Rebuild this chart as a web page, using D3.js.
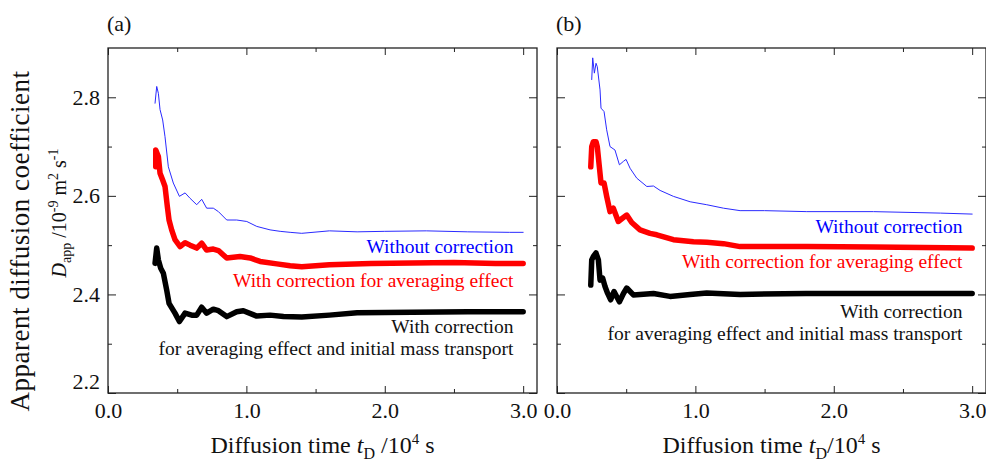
<!DOCTYPE html>
<html>
<head>
<meta charset="utf-8">
<script src="https://cdn.jsdelivr.net/npm/d3@7"></script>
<style>
  body { margin: 0; background: #fff; }
  text { font-family: "Liberation Serif", "DejaVu Serif", serif; fill: #111; }
</style>
</head>
<body>
<svg id="chart"></svg>
<script>
// tick values
const xMajor = [0, 1, 2, 3];
const xMinor = [0.5, 1.5, 2.5];
const yMajor = [2.2, 2.4, 2.6, 2.8];
const yMinor = [2.3, 2.5, 2.7];

// series: [t_D (10^4 s), D_app (10^-9 m2/s)]
const withoutCorrA = [[0.34,2.788],[0.352,2.822],[0.364,2.808],[0.376,2.775],[0.395,2.754],[0.412,2.72],[0.436,2.659],
  [0.472,2.626],[0.516,2.599],[0.557,2.606],[0.593,2.595],[0.641,2.582],[0.677,2.593],[0.713,2.575],[0.761,2.575],
  [0.798,2.568],[0.858,2.551],[0.93,2.551],[1.003,2.548],[1.075,2.538],[1.171,2.531],[1.244,2.528],[1.316,2.526],
  [1.4,2.524],[1.6,2.529],[1.8,2.527],[2.0,2.528],[2.3,2.529],[2.6,2.527],[2.9,2.526],[3.0,2.526]];
const avgCorrA = [[0.345,2.659],[0.345,2.693],[0.364,2.68],[0.376,2.646],[0.395,2.632],[0.412,2.619],[0.429,2.578],
  [0.441,2.551],[0.46,2.531],[0.484,2.511],[0.521,2.497],[0.557,2.505],[0.593,2.5],[0.641,2.494],[0.677,2.504],
  [0.713,2.49],[0.761,2.492],[0.798,2.489],[0.858,2.474],[0.954,2.477],[1.027,2.474],[1.099,2.467],[1.22,2.462],
  [1.316,2.458],[1.4,2.456],[1.6,2.46],[1.9,2.463],[2.2,2.464],[2.5,2.465],[2.8,2.463],[3.0,2.463]];
const fullCorrA = [[0.34,2.463],[0.352,2.494],[0.364,2.47],[0.381,2.453],[0.4,2.443],[0.424,2.409],[0.441,2.382],
  [0.484,2.362],[0.516,2.345],[0.557,2.362],[0.605,2.358],[0.641,2.358],[0.677,2.374],[0.713,2.362],[0.761,2.37],
  [0.798,2.367],[0.858,2.355],[0.93,2.365],[0.978,2.367],[1.075,2.356],[1.171,2.358],[1.268,2.355],[1.4,2.354],
  [1.6,2.358],[1.8,2.363],[2.2,2.364],[2.6,2.365],[3.0,2.365]];

const withoutCorrB = [[0.251,2.836],[0.258,2.88],[0.27,2.849],[0.282,2.869],[0.291,2.862],[0.311,2.815],[0.318,2.778],
  [0.34,2.771],[0.359,2.734],[0.383,2.7],[0.419,2.693],[0.451,2.663],[0.48,2.67],[0.499,2.674],[0.528,2.656],
  [0.576,2.636],[0.649,2.619],[0.697,2.62],[0.745,2.611],[0.841,2.599],[0.962,2.588],[1.082,2.582],[1.203,2.575],
  [1.323,2.57],[1.5,2.57],[1.805,2.568],[2.287,2.568],[2.77,2.565],[3.0,2.563]];
const avgCorrB = [[0.244,2.659],[0.251,2.7],[0.263,2.71],[0.282,2.71],[0.291,2.7],[0.306,2.659],[0.318,2.626],
  [0.34,2.626],[0.359,2.599],[0.383,2.568],[0.407,2.575],[0.443,2.548],[0.475,2.555],[0.504,2.561],[0.54,2.546],
  [0.6,2.531],[0.672,2.524],[0.721,2.521],[0.841,2.511],[0.986,2.507],[1.082,2.506],[1.203,2.503],[1.323,2.497],
  [1.805,2.497],[2.287,2.496],[3.0,2.494]];
const fullCorrB = [[0.244,2.419],[0.251,2.47],[0.263,2.477],[0.282,2.484],[0.299,2.47],[0.311,2.429],[0.33,2.433],
  [0.347,2.416],[0.366,2.402],[0.388,2.389],[0.412,2.406],[0.451,2.385],[0.48,2.402],[0.504,2.413],[0.552,2.399],
  [0.6,2.4],[0.697,2.402],[0.817,2.396],[0.962,2.4],[1.082,2.403],[1.323,2.4],[1.8,2.402],[2.4,2.402],[3.0,2.402]];

// annotation texts
const notes = ["Without correction", "With correction for averaging effect", "With correction",
  "for averaging effect and initial mass transport"];
const noteColors = ["#0000ff", "#ff0000", "#111", "#111"];
const notePosA = [2.484, 2.415, 2.322, 2.277];
const notePosB = [2.525, 2.454, 2.352, 2.308];

const W = 986, H = 462;
const plotTop = 48, plotBottom = 393, panelW = 429;

const svg = d3.select("#chart").attr("width", W).attr("height", H);

const panels = [
  { left: 108, tag: "(a)", lines: [withoutCorrA, avgCorrA, fullCorrA], notes: notePosA, yLabels: true, gap: " " },
  { left: 557, tag: "(b)", lines: [withoutCorrB, avgCorrB, fullCorrB], notes: notePosB, yLabels: false, gap: "" }
];

const lineStyles = [
  { color: "#2a2aff", width: 1 },
  { color: "#ff0000", width: 5.5 },
  { color: "#000", width: 5.5 }
];

panels.forEach(p => {
  const x = d3.scaleLinear().domain([0, 3.1]).range([p.left, p.left + panelW]);
  const y = d3.scaleLinear().domain([2.2, 2.9]).range([plotBottom, plotTop]);
  const g = svg.append("g");

  const fmt = d3.format(".1f");
  const clean = sel => { sel.select(".domain").remove(); sel.selectAll("line").attr("stroke", "#222"); };

  // bottom
  g.append("g").attr("transform", `translate(0,${plotBottom})`)
    .call(d3.axisBottom(x).tickValues(xMajor).tickFormat(fmt).tickSizeInner(-7).tickSizeOuter(0).tickPadding(9))
    .call(clean)
    .call(s => s.selectAll("text").attr("font-size", 22).style("font-family", "Liberation Serif"));
  g.append("g").attr("transform", `translate(0,${plotBottom})`)
    .call(d3.axisBottom(x).tickValues(xMinor).tickFormat("").tickSizeInner(-4).tickSizeOuter(0))
    .call(clean);
  // top
  g.append("g").attr("transform", `translate(0,${plotTop})`)
    .call(d3.axisTop(x).tickValues(xMajor).tickFormat("").tickSizeInner(-7).tickSizeOuter(0))
    .call(clean);
  g.append("g").attr("transform", `translate(0,${plotTop})`)
    .call(d3.axisTop(x).tickValues(xMinor).tickFormat("").tickSizeInner(-4).tickSizeOuter(0))
    .call(clean);
  // left
  g.append("g").attr("transform", `translate(${p.left},0)`)
    .call(d3.axisLeft(y).tickValues(yMajor).tickFormat(p.yLabels ? fmt : "").tickSizeInner(-8).tickSizeOuter(0).tickPadding(8))
    .call(clean)
    .call(s => s.selectAll("text").attr("font-size", 22).style("font-family", "Liberation Serif")
      .attr("dy", d => d === 2.2 ? "-0.2em" : "0.32em"));
  g.append("g").attr("transform", `translate(${p.left},0)`)
    .call(d3.axisLeft(y).tickValues(yMinor).tickFormat("").tickSizeInner(-4).tickSizeOuter(0))
    .call(clean);
  // right
  g.append("g").attr("transform", `translate(${p.left + panelW},0)`)
    .call(d3.axisRight(y).tickValues(yMajor).tickFormat("").tickSizeInner(-8).tickSizeOuter(0))
    .call(clean);
  g.append("g").attr("transform", `translate(${p.left + panelW},0)`)
    .call(d3.axisRight(y).tickValues(yMinor).tickFormat("").tickSizeInner(-4).tickSizeOuter(0))
    .call(clean);

  // frame
  g.append("rect")
    .attr("x", p.left).attr("y", plotTop).attr("width", panelW).attr("height", plotBottom - plotTop)
    .attr("fill", "none").attr("stroke", "#222").attr("stroke-width", 1.3);

  // curves
  const line = d3.line().x(d => x(d[0])).y(d => y(d[1]));
  p.lines.forEach((data, i) => {
    g.append("path").datum(data)
      .attr("d", line)
      .attr("fill", "none")
      .attr("stroke", lineStyles[i].color)
      .attr("stroke-width", lineStyles[i].width)
      .attr("stroke-linejoin", "round")
      .attr("stroke-linecap", "round");
  });

  // annotations
  notes.forEach((t, i) => {
    g.append("text")
      .attr("x", x(2.93)).attr("y", y(p.notes[i]))
      .attr("text-anchor", "end")
      .attr("font-size", 19.5)
      .style("fill", noteColors[i])
      .text(t);
  });

  // panel tag
  g.append("text").attr("x", p.left - 1).attr("y", 31).attr("font-size", 22).text(p.tag);

  // x title
  const xt = g.append("text")
    .attr("x", (p.left + p.left + panelW) / 2).attr("y", 453)
    .attr("text-anchor", "middle").attr("font-size", 24);
  xt.append("tspan").text("Diffusion time ");
  xt.append("tspan").attr("font-style", "italic").text("t");
  xt.append("tspan").attr("font-size", 16).attr("dy", 6).text("D");
  xt.append("tspan").attr("dy", -6).text(p.gap + "/10");
  xt.append("tspan").attr("font-size", 15).attr("dy", -9).text("4");
  xt.append("tspan").attr("dy", 9).text(" s");
});

// y title
svg.append("text")
  .attr("transform", "translate(29,241) rotate(-90)")
  .attr("text-anchor", "middle").attr("font-size", 27)
  .style("letter-spacing", "0.5px")
  .text("Apparent diffusion coefficient");

const yt = svg.append("text")
  .attr("transform", "translate(66,213) rotate(-90)")
  .attr("text-anchor", "middle").attr("font-size", 20);
yt.append("tspan").attr("font-style", "italic").text("D");
yt.append("tspan").attr("font-size", 14).attr("dy", 5).text("app");
yt.append("tspan").attr("dy", -5).text(" /10");
yt.append("tspan").attr("font-size", 14).attr("dy", -8).text("-9");
yt.append("tspan").attr("dy", 8).text(" m");
yt.append("tspan").attr("font-size", 14).attr("dy", -8).text("2");
yt.append("tspan").attr("dy", 8).text(" s");
yt.append("tspan").attr("font-size", 14).attr("dy", -8).text("-1");
</script>
</body>
</html>
